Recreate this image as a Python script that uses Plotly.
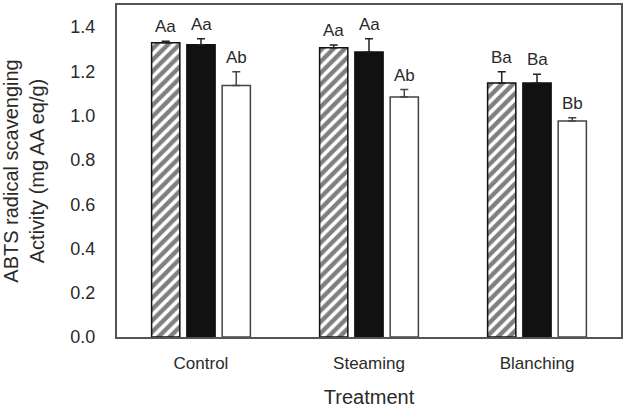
import plotly.graph_objects as go

categories = ["Control", "Steaming", "Blanching"]
series_names = ["Series 1", "Series 2", "Series 3"]
values_1 = [1.329, 1.307, 1.148]
errors_1 = [0.007, 0.012, 0.050]
labels_1 = ["Aa", "Aa", "Ba"]
values_2 = [1.320, 1.288, 1.148]
errors_2 = [0.027, 0.060, 0.039]
labels_2 = ["Aa", "Aa", "Ba"]
values_3 = [1.136, 1.084, 0.976]
errors_3 = [0.062, 0.034, 0.015]
labels_3 = ["Ab", "Ab", "Bb"]

y_ticks = [0.0, 0.2, 0.4, 0.6, 0.8, 1.0, 1.2, 1.4]
y_tick_text = ["0.0", "0.2", "0.4", "0.6", "0.8", "1.0", "1.2", "1.4"]

FONT = "Liberation Sans, Arial, sans-serif"
TXT = "#2a2a2a"
BARGAP = 0.37
BARGROUPGAP = 0.2

values = [values_1, values_2, values_3]
errors = [errors_1, errors_2, errors_3]
labels = [labels_1, labels_2, labels_3]

styles = [
    dict(color="white", line=dict(color="#111111", width=1.5),
         pattern=dict(shape="/", fgcolor="#000000", bgcolor="white", size=8, solidity=0.55)),
    dict(color="#111111", line=dict(color="#111111", width=1.5)),
    dict(color="white", line=dict(color="#444444", width=1.5)),
]
err_colors = ["#222222", "#222222", "#444444"]

fig = go.Figure()
for k in range(3):
    fig.add_trace(go.Bar(
        x=categories, y=values[k], name=series_names[k],
        marker=styles[k],
        error_y=dict(type="data", symmetric=False, array=errors[k],
                     arrayminus=[0] * len(errors[k]),
                     color=err_colors[k], thickness=1.5, width=4),
        showlegend=False,
    ))

slot = (1 - BARGAP) / 3
annotations = []
for k in range(3):
    for i in range(len(categories)):
        annotations.append(dict(
            x=i + (k - 1) * slot, y=values[k][i] + errors[k][i],
            xref="x", yref="y", text=labels[k][i], showarrow=False,
            yanchor="bottom", yshift=3,
            font=dict(family=FONT, size=17, color=TXT),
        ))

fig.update_layout(
    width=629, height=408,
    margin=dict(l=117, r=8, t=3, b=70),
    paper_bgcolor="white", plot_bgcolor="white",
    barmode="group", bargap=BARGAP, bargroupgap=BARGROUPGAP,
    font=dict(family=FONT, color=TXT),
    annotations=annotations,
)
fig.update_xaxes(
    showline=True, linecolor="#555555", linewidth=2, mirror=True,
    ticks="", showgrid=False,
    ticklabelstandoff=10,
    tickfont=dict(family=FONT, size=17, color=TXT),
    title=dict(text="Treatment", font=dict(family=FONT, size=20, color=TXT), standoff=18),
)
fig.update_yaxes(
    range=[0, 1.5], tickvals=y_ticks, ticktext=y_tick_text,
    showline=True, linecolor="#555555", linewidth=2, mirror=True,
    ticks="", showgrid=False, zeroline=False,
    ticklabelstandoff=16,
    tickfont=dict(family=FONT, size=18, color=TXT),
    title=dict(text="ABTS radical scavenging<br>Activity (mg AA eq/g)",
               font=dict(family=FONT, size=20, color=TXT), standoff=21),
)

fig.write_html("out.html")
